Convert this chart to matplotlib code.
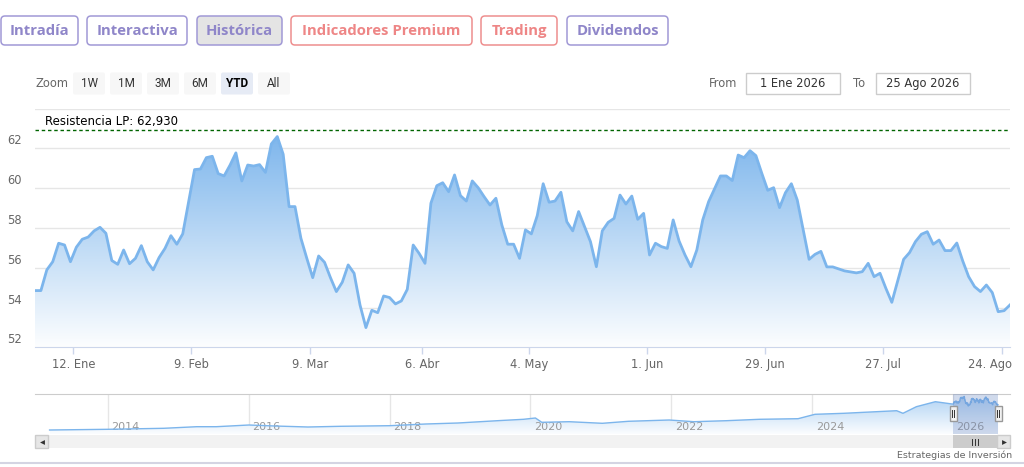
import numpy as np
import matplotlib
matplotlib.use("Agg")
import matplotlib.pyplot as plt
import matplotlib.transforms as mtransforms
from matplotlib.patches import FancyBboxPatch, Rectangle, PathPatch

# ---- data ------------------------------------------------------------------
# daily closes, 1 Ene 2026 -> 25 Ago 2026 (trading days, ordinal axis)
prices = [
    54.85, 54.85, 55.89, 56.30, 57.23, 57.14, 56.30, 57.03, 57.43, 57.54, 57.85, 58.03,
    57.73, 56.36, 56.17, 56.89, 56.20, 56.47, 57.11, 56.30, 55.89, 56.51, 56.97, 57.61,
    57.18, 57.70, 59.32, 60.93, 60.96, 61.53, 61.60, 60.73, 60.61, 61.15, 61.77, 60.36,
    61.16, 61.11, 61.18, 60.79, 62.22, 62.59, 61.70, 59.07, 59.07, 57.48, 56.47, 55.50,
    56.59, 56.27, 55.50, 54.80, 55.27, 56.14, 55.72, 54.13, 52.99, 53.86, 53.74, 54.58,
    54.50, 54.18, 54.33, 54.91, 57.14, 56.72, 56.22, 59.24, 60.12, 60.27, 59.82, 60.66,
    59.62, 59.35, 60.36, 60.02, 59.57, 59.15, 59.49, 58.15, 57.18, 57.18, 56.47, 57.90,
    57.70, 58.62, 60.22, 59.29, 59.35, 59.79, 58.31, 57.85, 58.82, 58.06, 57.31,
    56.05, 57.85, 58.28, 58.48, 59.65, 59.20, 59.60, 58.43, 58.73, 56.64, 57.23, 57.06,
    56.97, 58.40, 57.34, 56.64, 56.05, 56.89, 58.40, 59.32, 59.96, 60.61, 60.61, 60.38,
    61.66, 61.53, 61.88, 61.63, 60.74, 59.89, 60.02, 59.02, 59.77, 60.22, 59.40, 57.90,
    56.42, 56.67, 56.82, 56.04, 56.04, 55.94, 55.84, 55.79, 55.74, 55.80, 56.22, 55.55,
    55.72, 54.96, 54.26, 55.33, 56.42, 56.76, 57.31, 57.68, 57.81, 57.18, 57.39, 56.86,
    56.86, 57.24, 56.34, 55.55, 55.05, 54.80, 55.13, 54.75, 53.79, 53.84, 54.13,
]
x_tick_pos = [6.5, 26.45, 46.6, 65.55, 83.65, 103.6, 123.6, 143.55, 163.7]
x_tick_labels = ["12. Ene", "9. Feb", "9. Mar", "6. Abr", "4. May", "1. Jun",
                 "29. Jun", "27. Jul", "24. Ago"]
y_ticks = [52, 54, 56, 58, 60, 62, 64]
resistance = 62.93

# navigator: long history (year, close)
nav_years = [2013.17, 2014.0, 2014.79, 2015.26, 2015.54, 2016.0, 2016.37, 2016.84,
             2017.30, 2018.0, 2018.51, 2018.97, 2019.53, 2019.90, 2020.07, 2020.16,
             2020.55, 2021.02, 2021.39, 2021.97, 2022.32, 2022.78, 2023.25, 2023.80,
             2024.04, 2024.45, 2024.92, 2025.20, 2025.29, 2025.48, 2025.75]
nav_values = [29.0, 29.7, 30.7, 32.3, 32.3, 34.0, 33.0, 32.0,
              32.7, 33.3, 35.0, 36.0, 38.3, 39.7, 41.0, 36.7,
              37.3, 35.7, 37.7, 39.0, 37.3, 38.3, 39.7, 40.3,
              44.7, 45.7, 47.3, 48.3, 45.7, 52.3, 57.3]
nav_year_ticks = [2014, 2016, 2018, 2020, 2022, 2024, 2026]
sel_start, sel_end = 2026.0, 2026.64

tab_labels = ["Intradía", "Interactiva", "Histórica", "Indicadores Premium", "Trading", "Dividendos"]
zoom_labels = ["1W", "1M", "3M", "6M", "YTD", "All"]

W, H = 1024, 467
BLUE = "#7cb5ec"


def px_box(x0, y0, x1, y1):
    return [x0 / W, 1 - y1 / H, (x1 - x0) / W, (y1 - y0) / H]


def gradient_fill(ax, x, y, base, top, a0, a1, z=1):
    poly = ax.fill_between(x, y, base, facecolor="none", edgecolor="none")
    patch = PathPatch(poly.get_paths()[0], transform=ax.transData,
                      facecolor="none", edgecolor="none")
    ax.add_patch(patch)
    rgb = np.array(matplotlib.colors.to_rgb(BLUE))
    a = np.linspace(a0, a1, 256)[:, None]
    img = np.ones((256, 1, 3)) * (1 - a[..., None]) + rgb * a[..., None]
    im = ax.imshow(img, extent=[min(x), max(x), base, top], origin="lower",
                   aspect="auto", zorder=z, interpolation="bilinear")
    im.set_clip_path(patch)


fig = plt.figure(figsize=(W / 100, H / 100), dpi=100, facecolor="white")
plt.rcParams["font.family"] = ["DejaVu Sans"]

# ---- main chart ----
ax = fig.add_axes(px_box(35, 108.5, 1010, 347.3))
ax.set_facecolor("none")
x = np.arange(len(prices))
gradient_fill(ax, x, prices, 52, max(prices), 0.02, 0.98)
ax.plot(x, prices, color=BLUE, lw=2, zorder=3, solid_joinstyle="round")
ax.axhline(resistance, color="#006400", lw=1, ls=(0, (2.5, 2)), zorder=4)
ax.text(10 / 975, resistance, "Resistencia LP: 62,930", fontsize=8.5,
        color="black", va="bottom", ha="left",
        transform=mtransforms.offset_copy(ax.get_yaxis_transform(), fig=fig, y=2, units="dots"))
ax.set_xlim(0, len(prices) - 1)
ax.set_ylim(52, 64)
ax.set_yticks(y_ticks)
ax.tick_params(axis="y", length=0, labelleft=False)
ax.yaxis.grid(True, color="#e6e6e6", lw=1)
ax.set_axisbelow(True)
for t in y_ticks[:-1]:
    ax.text(-28 / 975, t, str(t), fontsize=8.3, color="#666666", ha="left",
            va="bottom", transform=mtransforms.offset_copy(
                ax.get_yaxis_transform(), fig=fig, y=1, units="dots"))
ax.set_xticks(x_tick_pos, x_tick_labels)
ax.tick_params(axis="x", length=5, width=1, color="#ccd6eb", labelcolor="#666666",
               labelsize=8.3, pad=3)
# last label is pushed inside the plot area, as the original does
last = ax.get_xticklabels()[-1]
last.set_transform(last.get_transform() + mtransforms.Affine2D().translate(-12, 0))
for s in ["top", "left", "right"]:
    ax.spines[s].set_visible(False)
ax.spines["bottom"].set_color("#ccd6eb")

# ---- navigator ----
nav = fig.add_axes(px_box(35, 394, 1010, 434))
nav.set_facecolor("none")
step = (sel_end - sel_start) / (len(prices) - 1)
nx = np.array(nav_years + [sel_start + i * step for i in range(len(prices))])
ny = np.array(nav_values + prices)
nav.set_xlim(2012.963, 2026.81)
gradient_fill(nav, nx, ny, 25, ny.max(), 0.03, 0.6)
nav.plot(nx, ny, color=BLUE, lw=1, zorder=3)
nav.axvspan(sel_start, sel_end, color=(102 / 255, 133 / 255, 194 / 255, 0.3), lw=0, zorder=4)
nav.set_ylim(25, 65)
for yr in nav_year_ticks:
    nav.axvline(yr, color="#e6e6e6", lw=1, zorder=0)
    nav.text(yr + 0.05, 0.18, str(yr), color="#999999", fontsize=8, ha="left",
             va="center", transform=nav.get_xaxis_transform(), zorder=2)
nav.set_xticks([])
nav.set_yticks([])
for s in ["bottom", "left", "right"]:
    nav.spines[s].set_visible(False)
nav.spines["top"].set_color("#cccccc")

# ---- overlay in pixel coordinates ----
ov = fig.add_axes([0, 0, 1, 1], zorder=10)
ov.set_xlim(0, W)
ov.set_ylim(H, 0)
ov.axis("off")
ov.patch.set_alpha(0)

# tabs
tab_x = [(1, 78), (87, 187), (197, 282), (291, 472), (481, 557), (567, 668)]
purple_txt, purple_edge = "#8f86c9", "#a199d6"
red_txt, red_edge = "#ee8686", "#ee8e8e"
for (x0, x1), lab in zip(tab_x, tab_labels):
    red = lab in ("Indicadores Premium", "Trading")
    fc = "#e4e4e4" if lab == "Histórica" else "white"
    ov.add_patch(FancyBboxPatch((x0, 16), x1 - x0, 29, boxstyle="round,pad=0,rounding_size=4",
                                fc=fc, ec=red_edge if red else purple_edge, lw=1.1))
    ov.text((x0 + x1) / 2, 31, lab, ha="center", va="center", fontsize=10.7,
            fontweight="bold", family="Open Sans",
            color=red_txt if red else purple_txt)

# zoom buttons
ov.text(35, 83.5, "Zoom", fontsize=8.3, color="#666666", ha="left", va="center")
zoom_x = [73, 110, 147, 184, 221, 258]
for x0, lab in zip(zoom_x, zoom_labels):
    sel = lab == "YTD"
    ov.add_patch(FancyBboxPatch((x0, 72.5), 32, 22, boxstyle="round,pad=0,rounding_size=2",
                                fc="#e6ebf5" if sel else "#f7f7f7", ec="none"))
    ov.text(x0 + 16, 83.5, lab, ha="center", va="center", fontsize=8.5,
            family="Roboto", color="black" if sel else "#333333",
            fontweight="bold" if sel else "normal")

# date range inputs
ov.text(709, 83.5, "From", fontsize=8.3, color="#666666", ha="left", va="center")
ov.text(853, 83.5, "To", fontsize=8.3, color="#666666", ha="left", va="center")
for x0, lab in [(746, "1 Ene 2026"), (876, "25 Ago 2026")]:
    ov.add_patch(Rectangle((x0, 72.5), 94, 21, fc="white", ec="#cccccc", lw=1))
    ov.text(x0 + 47, 83.5, lab, ha="center", va="center", fontsize=8.3, color="#333333")

# navigator handles
for hx in (953, 998):
    ov.add_patch(Rectangle((hx - 3.5, 406), 7, 15, fc="#f2f2f2", ec="#999999", lw=1, zorder=5))
    ov.plot([hx - 1, hx - 1], [410, 417], color="#333333", lw=0.7, zorder=6)
    ov.plot([hx + 1, hx + 1], [410, 417], color="#333333", lw=0.7, zorder=6)

# scrollbar
ov.add_patch(Rectangle((35, 435), 975, 13, fc="#f2f2f2", ec="none"))
ov.add_patch(Rectangle((953, 435), 44, 13, fc="#cccccc", ec="none"))
for gx in (972, 975, 978):
    ov.plot([gx, gx], [438.5, 444.5], color="#333333", lw=0.7)
for bx, mk in [(35, "<"), (997, ">")]:
    ov.add_patch(Rectangle((bx, 435), 13, 13, fc="#e6e6e6", ec="#cccccc", lw=1))
    ov.plot(bx + 6.5, 441.5, marker=mk, color="#333333", ms=3.5, mew=0)

ov.text(1012, 455, "Estrategias de Inversión", fontsize=6.8, color="#666666",
        ha="right", va="center")
ov.plot([0, W], [463, 463], color="#d4d4e2", lw=1.5)

fig.savefig("out.png", dpi=100, facecolor="white")
